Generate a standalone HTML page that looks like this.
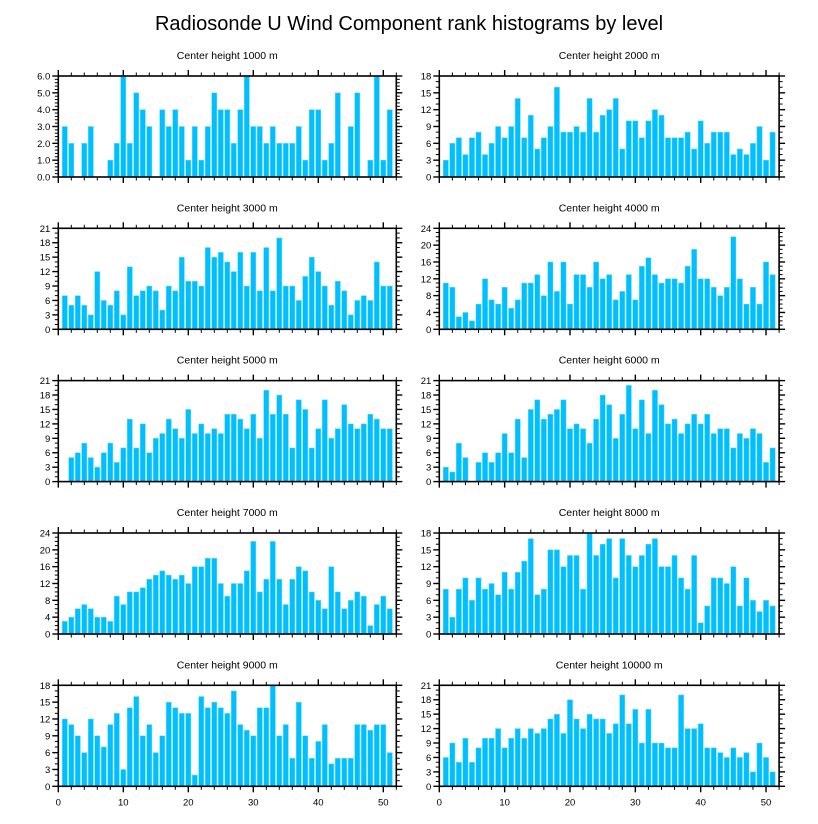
<!DOCTYPE html>
<html><head><meta charset="utf-8"><style>
body{margin:0;background:#fff;}
svg{display:block;font-family:"Liberation Sans",Arial,sans-serif;}
</style></head><body>
<svg id="chart" width="818" height="824" viewBox="0 0 818 824">
<text x="409" y="30" text-anchor="middle" font-size="20" fill="#000">Radiosonde U Wind Component rank histograms by level</text>
</svg>
<script>
const panelTitles = ["Center height 1000 m","Center height 2000 m","Center height 3000 m","Center height 4000 m","Center height 5000 m","Center height 6000 m","Center height 7000 m","Center height 8000 m","Center height 9000 m","Center height 10000 m"];
const yMaxes = [6,18,21,24,21,21,24,18,18,21];
const yStepVals = [1,3,3,4,3,3,4,3,3,3];
const xTickLabels = [0,10,20,30,40,50];
const v1000 = [3,2,0,2,3,0,0,1,2,6,2,5,4,3,0,4,3,4,3,1,3,1,3,5,4,4,2,4,6,3,3,2,3,2,2,2,3,1,4,4,1,2,5,0,3,5,0,1,6,1,4];
const v2000 = [3,6,7,4,7,8,4,6,9,7,9,14,7,11,5,7,9,16,8,8,9,8,14,8,11,12,14,5,10,10,7,10,12,11,7,7,7,8,5,10,6,8,8,8,4,5,4,6,9,3,8];
const v3000 = [7,5,7,5,3,12,6,5,8,3,13,7,8,9,8,4,9,8,15,10,10,9,17,15,16,14,12,16,9,16,8,17,8,19,9,9,6,11,15,12,9,5,10,8,3,6,7,6,14,9,9];
const v4000 = [11,10,3,4,2,6,12,7,6,10,5,7,11,11,13,8,16,9,16,6,13,13,10,16,12,13,7,9,13,7,15,17,13,11,12,12,11,15,19,12,12,10,8,10,22,12,6,10,6,16,13];
const v5000 = [0,5,6,8,5,3,6,8,4,7,13,7,12,6,9,10,13,11,9,15,10,12,10,11,10,14,14,13,11,14,9,19,14,18,14,7,17,15,7,11,17,9,11,16,12,11,12,14,13,11,11];
const v6000 = [3,2,8,5,0,4,6,4,6,10,6,13,5,15,17,13,14,15,17,11,12,11,8,13,18,16,9,14,20,11,17,10,19,16,12,13,10,12,14,12,14,10,11,11,7,10,9,11,10,4,7];
const v7000 = [3,4,6,7,6,4,4,3,9,7,10,10,11,13,14,15,14,13,14,12,16,16,18,18,12,9,12,12,15,22,10,13,22,13,7,13,16,15,10,8,6,16,10,6,8,10,9,2,7,9,6];
const v8000 = [8,3,8,10,6,10,8,9,7,11,8,11,13,17,7,8,15,15,12,14,14,8,18,14,16,17,10,17,14,12,14,16,17,12,12,14,10,8,14,2,5,10,10,9,12,5,10,6,4,6,5];
const v9000 = [12,11,9,6,12,9,7,11,13,3,14,16,9,11,6,9,15,14,13,13,2,16,14,15,14,13,17,11,10,9,14,14,18,9,11,5,15,9,5,8,11,4,5,5,5,11,11,10,11,11,6];
const v10000 = [6,9,5,10,5,8,10,10,12,8,10,12,10,12,11,12,14,15,11,18,14,12,15,14,14,11,13,19,13,16,9,16,9,9,8,8,19,12,12,13,8,8,7,6,8,6,7,3,9,6,3];
const seriesList = [v1000,v2000,v3000,v4000,v5000,v6000,v7000,v8000,v9000,v10000];

const NS = "http://www.w3.org/2000/svg";
const svg = document.getElementById('chart');
function mk(tag, attrs, parent){ const e=document.createElementNS(NS,tag); for(const k in attrs) e.setAttribute(k,attrs[k]); (parent||svg).appendChild(e); return e; }

const colLeft = [58.3, 439.3];
const plotW = [338, 339.8];
const rowTop = [76, 228.3, 380.6, 533, 685.3];
const plotH = 101;
const XMAX = 52;

for(let p=0;p<10;p++){
  const col = p%2, row = Math.floor(p/2);
  const x0 = colLeft[col], w = plotW[col], y0 = rowTop[row], h = plotH;
  const ymax = yMaxes[p], step = yStepVals[p], data = seriesList[p];
  const xs = v => x0 + v / XMAX * w;
  const ys = v => y0 + h - v / ymax * h;
  const g = mk('g', {});
  
  
  const t = mk('text', {x: x0 + w/2, y: y0 - 17, 'text-anchor':'middle','font-size':'10.5',fill:'#000'}, g);
  t.textContent = panelTitles[p];
  
  
  data.forEach((v,i)=>{
    if(v<=0) return;
    const cx = xs(i+1), bw = 0.8/XMAX*w;
    const r = mk('rect', {x: cx-bw/2, y: ys(v), width: bw, height: ys(0)-ys(v), fill:'#00bfff', stroke:'#6fd8ff','stroke-width':'0.5'}, g);
    
    
  });
  const f = mk('rect', {x:x0, y:y0, width:w, height:h, fill:'none', stroke:'#000','stroke-width':'1.6'}, g);
  
  
  for(let xv=0; xv<=XMAX; xv+=2){
    const major = xv%10===0, len = major?6:3.5, X = xs(xv);
    mk('line',{x1:X,x2:X,y1:y0,y2:y0-len,stroke:'#000','stroke-width':major?1.4:1},g);
    mk('line',{x1:X,x2:X,y1:y0+h,y2:y0+h+len,stroke:'#000','stroke-width':major?1.4:1},g);
  }
  const minorStep = step/ (step===4?4:(step===1?5:3));
  for(let k=0; k*minorStep<=ymax+1e-9; k++){
    const yv = k*minorStep, Y = ys(yv);
    const major = Math.abs(yv/step - Math.round(yv/step))<1e-6, len = major?6:3.5;
    mk('line',{x1:x0,x2:x0-len,y1:Y,y2:Y,stroke:'#000','stroke-width':major?1.4:1},g);
    mk('line',{x1:x0+w,x2:x0+w+len,y1:Y,y2:Y,stroke:'#000','stroke-width':major?1.4:1},g);
  }
  for(let yv=0; yv<=ymax; yv+=step){
    const lb = mk('text',{x:x0-8,y:ys(yv)+3.5,'text-anchor':'end','font-size':'9.5',fill:'#000'},g);
    lb.textContent = step===1 ? yv.toFixed(1) : String(yv);
    
    
  }
  if(row===4){
    xTickLabels.forEach(xv=>{
      const lb = mk('text',{x:xs(xv),y:y0+h+19,'text-anchor':'middle','font-size':'9.5',fill:'#000'},g);
      lb.textContent = String(xv);
      
      
    });
  }
}
</script>
</body></html>
